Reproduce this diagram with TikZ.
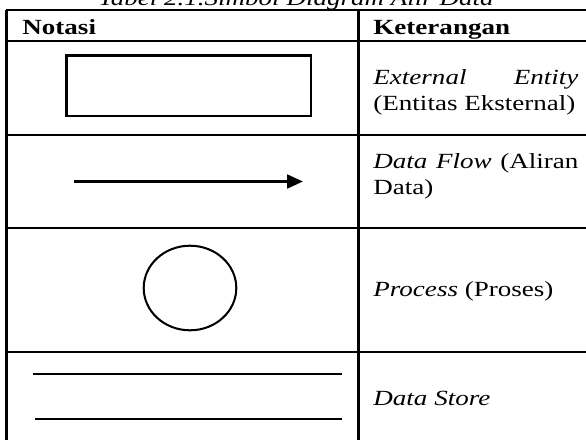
\documentclass[tikz,border=0pt]{standalone}
\usepackage{fontspec}
\setmainfont{Liberation Serif}
\usetikzlibrary{arrows.meta}
\tikzset{
  rule/.style={line width=1.3pt},
  sym/.style={line width=.9pt},
  txt/.style={font=\fontsize{12}{14.5}\selectfont, inner sep=0pt, yscale=.8, transform shape},
  cell/.style={txt, text width=91pt, align=justify, anchor=base west},
}
\begin{document}
\begin{tikzpicture}[x=.444pt,y=.444pt]
\useasboundingbox (0,0) rectangle (586,-440);
\node[txt, anchor=base] (title) at (296,-5) {\textit{Tabel 2.1.Simbol Diagram Alir Data}};
% garis tabel
\draw[rule]     (5.8,-10) -- (586,-10);
\foreach \y in {41,135,228,352}
{
\draw[rule] (6.5,-\y) -- (586,-\y);
}
\draw[rule]     (6.5,-10) -- (6.5,-440) (358.5,-10) -- (358.5,-440);
% judul kolom
\node[txt, anchor=base west] (notasi) at (22,-34) {\textbf{Notasi}};
\node[txt, anchor=base west] (ket)    at (373,-34) {\textbf{Keterangan}};
% simbol
\draw[sym]      (66.5,-55.5) rectangle (311,-116);
\coordinate (flowa) at (74,-181.5);
\coordinate (flowb) at (303,-181.5);
\draw[rule,-{Triangle[length=7pt,width=6pt]}] (flowa) -- (flowb);
\draw[sym]      (190,-288) ellipse [x radius=46.3, y radius=42.3];
\draw[rule]     (33,-374) -- (342,-374) (35,-419) -- (342,-419);
% keterangan
\node[cell] (entity)  at (373,-84)  {\textit{External Entity}\linebreak (Entitas Eksternal)};
\node[cell] (flow)    at (373,-168) {\textit{Data Flow} (Aliran\linebreak Data)};
\node[txt, anchor=base west] (process) at (373,-296) {\textit{Process} (Proses)};
\node[txt, anchor=base west] (store)   at (373,-405) {\textit{Data Store}};
\end{tikzpicture}
\end{document}
